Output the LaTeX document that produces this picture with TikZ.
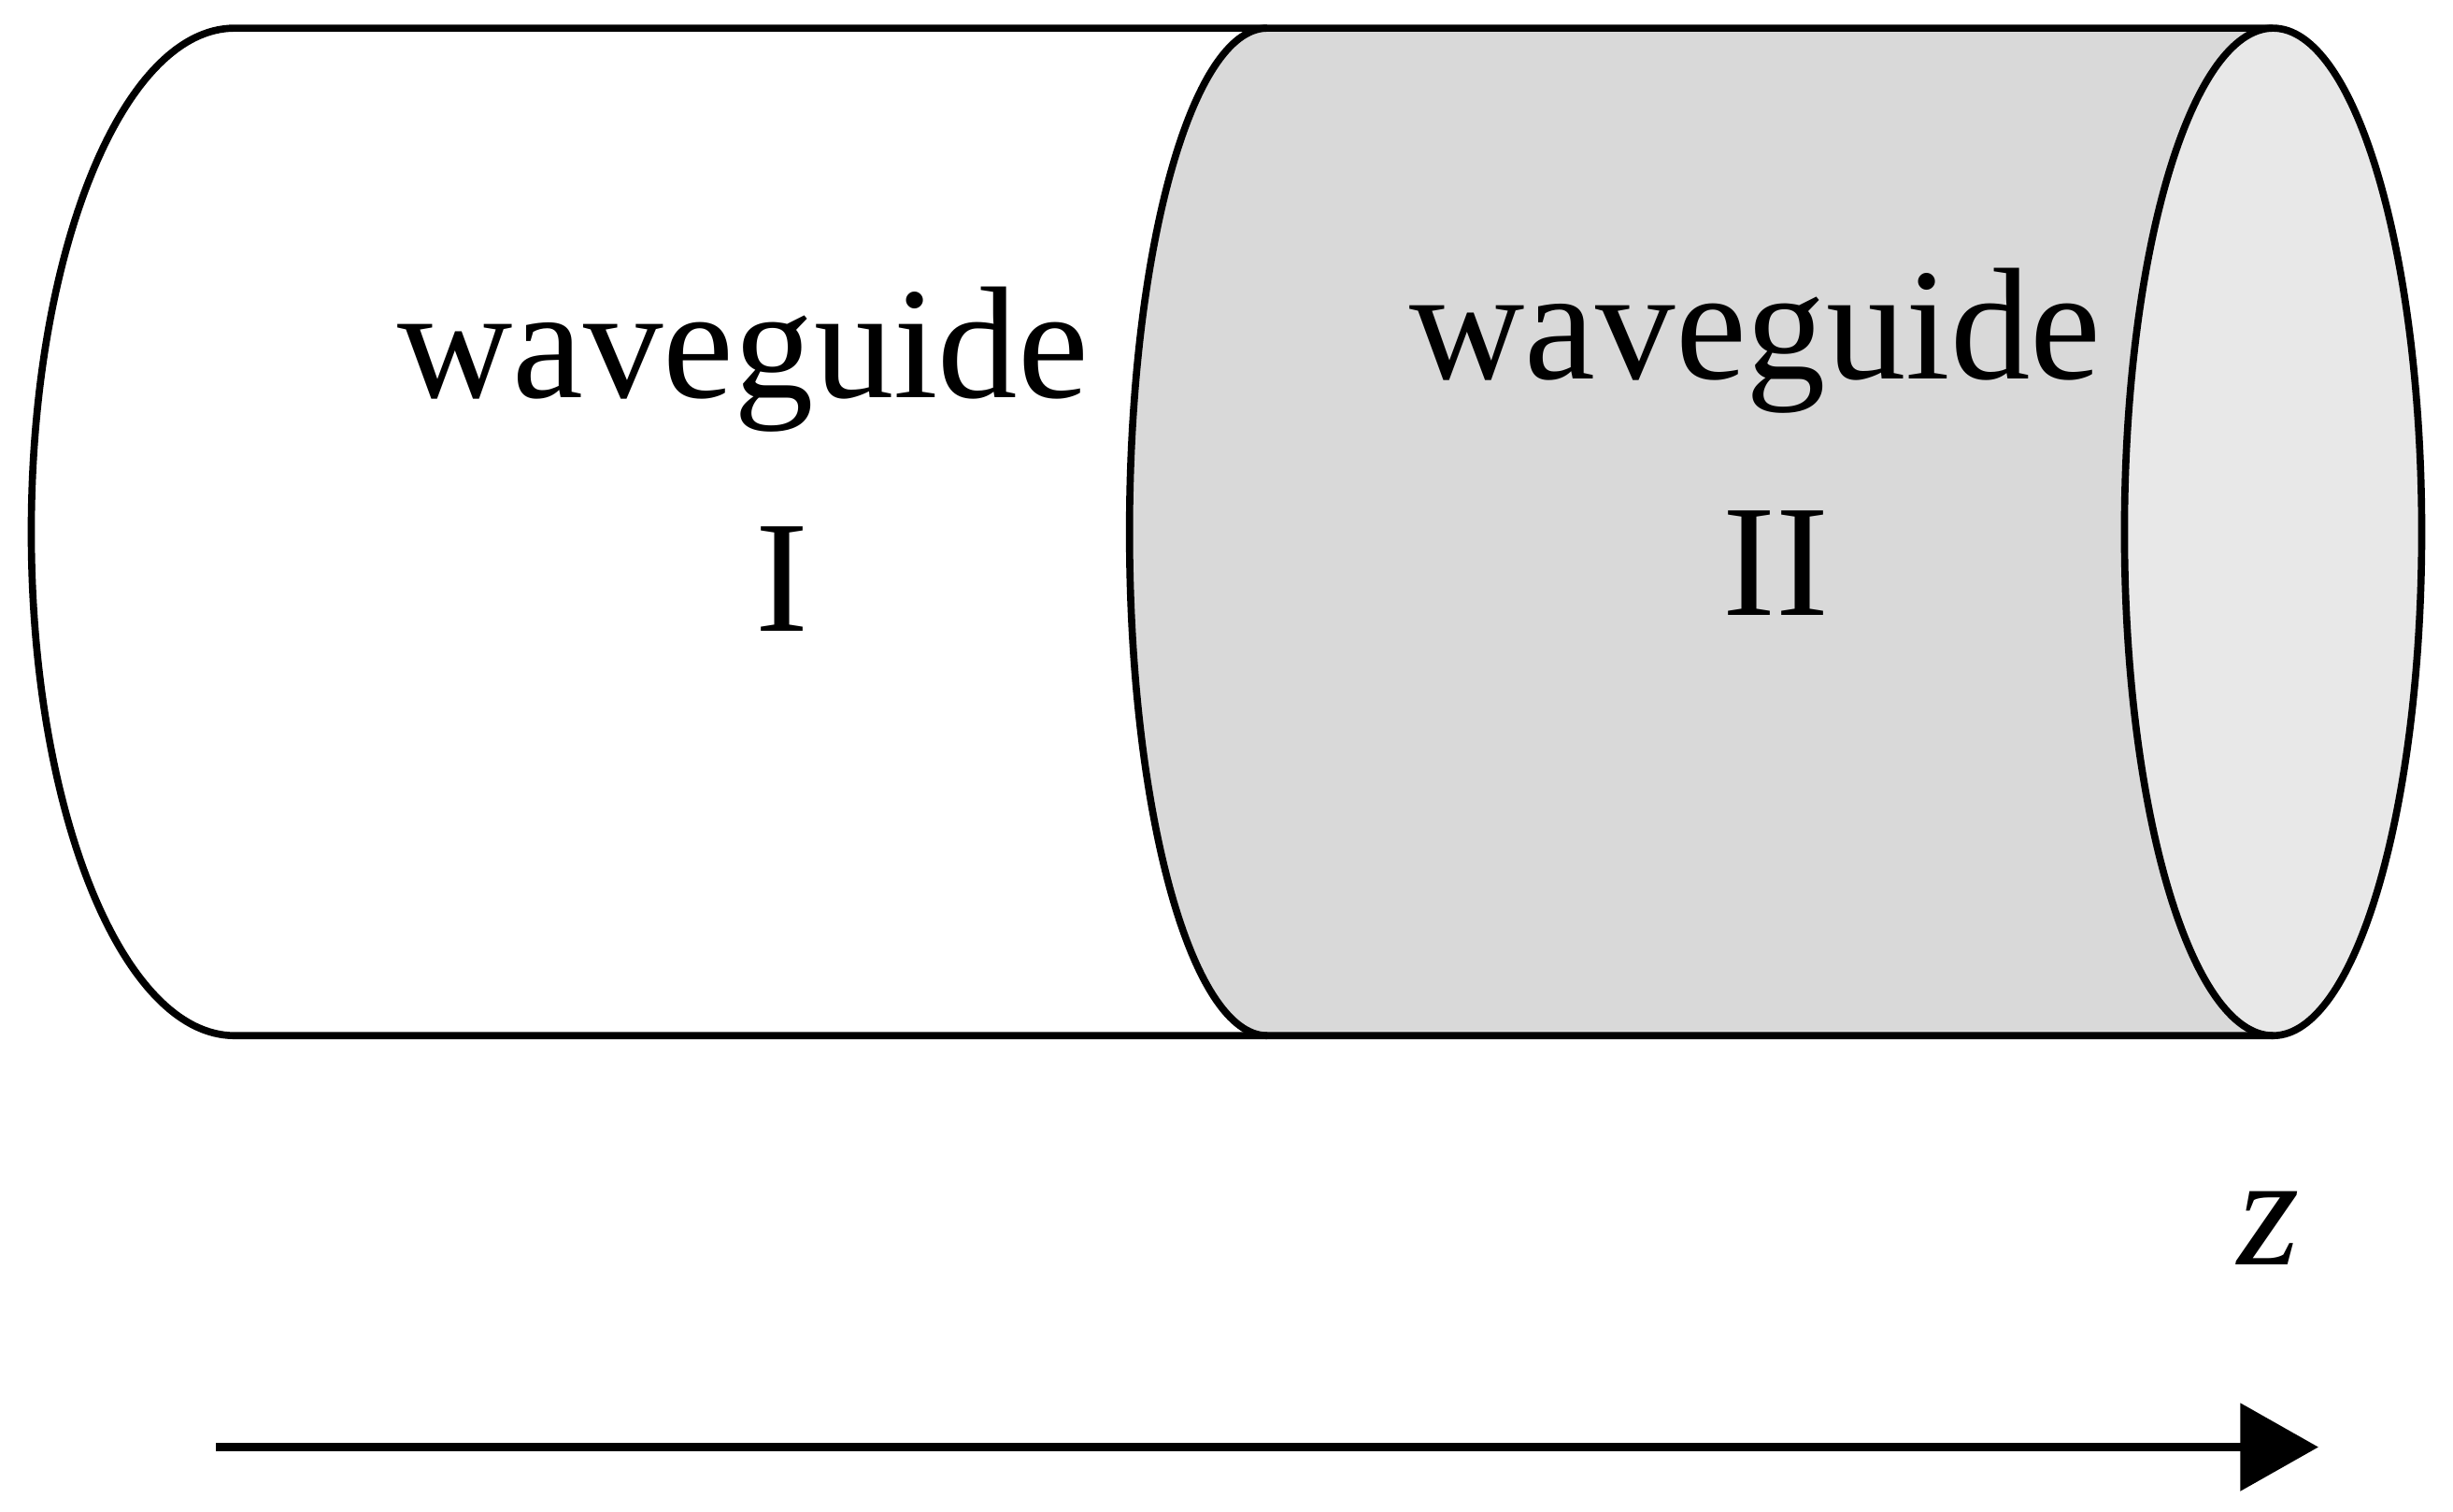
\documentclass[tikz,border=0pt]{standalone}
\usepackage{fontspec}
\setmainfont{Liberation Serif}
\usetikzlibrary{arrows.meta}
\begin{document}
\begin{tikzpicture}[x=0.01cm,y=0.01cm,
  outline/.style={line width=1.3pt},
  lbl/.style={font=\fontsize{29}{34}\selectfont, inner sep=0pt}]
\useasboundingbox (0,0) rectangle (1568,966);
\fill[fill={rgb,255:red,217;green,217;blue,217}] (810,948) -- (1453,948) arc[start angle=90,end angle=-90,x radius=95,y radius=322] -- (810,304) arc[start angle=270,end angle=90,x radius=88,y radius=322] -- cycle;
\draw[outline, fill={rgb,255:red,232;green,232;blue,232}] (1453,626) ellipse[x radius=95,y radius=322];
\draw[outline] (1453,948) -- (150,948) arc[start angle=90,end angle=270,x radius=130,y radius=322] -- (1453,304);
\draw[outline] (810,948) arc[start angle=90,end angle=270,x radius=88,y radius=322];
\node[lbl] (w1) at (475,736) {waveguide};
\node[lbl] (r1) at (500,596) {I};
\node[lbl] (w2) at (1122,748) {waveguide};
\node[lbl] (r2) at (1135,606) {II};
\node[lbl, font=\fontsize{29}{34}\selectfont\itshape] (z) at (1450,181) {z};
\coordinate (a0) at (138,41);
\coordinate (a1) at (1482,41);
\draw[line width=1.6pt, -{Triangle[length=0.5cm,width=0.55cm]}] (a0) -- (a1);
\end{tikzpicture}
\end{document}
